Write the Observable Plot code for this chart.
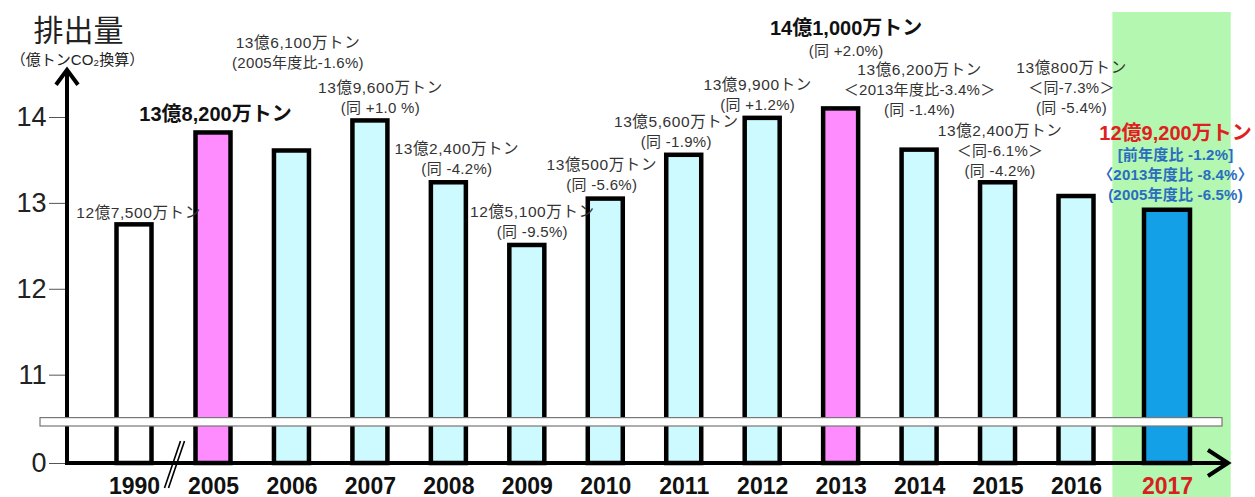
<!DOCTYPE html>
<html><head><meta charset="utf-8">
<script src="https://cdn.jsdelivr.net/npm/d3@7"></script>
<script src="https://cdn.jsdelivr.net/npm/@observablehq/plot@0.6"></script>
<style>
html,body{margin:0;padding:0;background:#fff;}
#chart{width:1255px;height:497px;}
</style></head><body><div id="chart"></div>
<script>
// ---- data ----
const years = [1990, 2005, 2006, 2007, 2008, 2009, 2010, 2011, 2012, 2013, 2014, 2015, 2016, 2017];
const emissions = [12.75, 13.82, 13.61, 13.96, 13.24, 12.51, 13.05, 13.56, 13.99, 14.10, 13.62, 13.24, 13.08, 12.92];
const amountLabels = ["12億7,500万トン", "13億8,200万トン", "13億6,100万トン", "13億9,600万トン", "13億2,400万トン",
  "12億5,100万トン", "13億500万トン", "13億5,600万トン", "13億9,900トン", "14億1,000万トン",
  "13億6,200万トン", "13億2,400万トン", "13億800万トン", "12億9,200万トン"];
const vsPrevLabels = [null, null, null, null, null, null, null, null, null, null, null, null, null, "[前年度比 -1.2%]"];
const vs2013Labels = [null, null, null, null, null, null, null, null, null, null,
  "＜2013年度比-3.4%＞", "＜同-6.1%＞", "＜同-7.3%＞", "〈2013年度比 -8.4%〉"];
const vs2005Labels = [null, null, "(2005年度比-1.6%)", "(同 +1.0 %)", "(同 -4.2%)", "(同 -9.5%)", "(同 -5.6%)",
  "(同 -1.9%)", "(同 +1.2%)", "(同 +2.0%)", "(同 -1.4%)", "(同 -4.2%)", "(同 -5.4%)", "(2005年度比 -6.5%)"];
const barKinds = ["base", "ref", "normal", "normal", "normal", "normal", "normal", "normal", "normal", "ref",
  "normal", "normal", "normal", "latest"];
const emphasizedYears = [2005, 2013, 2017];
const latestYear = 2017;
const yTicks = [0, 11, 12, 13, 14];
const titleText = "排出量";
const unitText = "（億トンCO₂換算）";

// ---- layout / styles ----
const kindFill = {base: "#ffffff", ref: "#ff8cff", normal: "#ccfaff", latest: "#14a0e6"};
// label block offset from bar top in px: [dx, dy of first line]
const labelLayout = {
  1990: [4, -12], 2005: [2, -18], 2006: [6, -108], 2007: [10, -33], 2008: [8, -34], 2009: [5, -33],
  2010: [-4, -34], 2011: [-8, -33], 2012: [-5, -33], 2013: [5, -80], 2014: [0, -80], 2015: [2, -52],
  2016: [-5, -128], 2017: [8, -77]
};

const data = years.map((year, i) => ({year, value: emissions[i], kind: barKinds[i]}));
const normalBars = data.filter(d => d.kind !== "latest");
const latestBars = data.filter(d => d.kind === "latest");

// label rows
const labelMarks = [];
years.forEach((year, i) => {
  const [dx, dy0] = labelLayout[year];
  const isLatest = year === latestYear;
  const emph = emphasizedYears.includes(year);
  const lines = [];
  lines.push({text: amountLabels[i], size: emph ? 20 : 15.5, weight: emph ? "bold" : "normal",
    fill: isLatest ? "#e02020" : (emph ? "#111" : "#333"), spacing: emph ? 0 : 0.6});
  for (const arr of [vsPrevLabels, vs2013Labels, vs2005Labels]) {
    if (arr[i]) lines.push({text: arr[i], size: isLatest ? 15 : 15, weight: isLatest ? "bold" : "normal",
      fill: isLatest ? "#2a6cc0" : "#333", spacing: isLatest ? 0.2 : 0.3});
  }
  let dy = dy0;
  lines.forEach((ln) => {
    labelMarks.push(Plot.text([data[i]], {
      x: "year", y: "value", text: () => ln.text, dx, dy,
      fontSize: ln.size, fontWeight: ln.weight, fill: ln.fill,
      render: (index, scales, values, dims, context, next) => {
        const g = next(index, scales, values, dims, context);
        g.setAttribute("letter-spacing", ln.spacing);
        return g;
      }
    }));
    dy += (ln.weight === "bold" && ln.size > 16) ? 22 : 20;
  });
});

// axis arrows and x-axis break mark (decoration drawn from the scales)
function axisArrows(index, {x, y}, values, dims) {
  const x0 = dims.marginLeft, y0 = y(0), yTop = y(14.55), xEnd = x(2017.67);
  const g = d3.create("svg:g").attr("fill", "none").attr("stroke", "#000").attr("stroke-width", 4)
    .attr("stroke-linejoin", "miter");
  g.append("path").attr("d", `M${x0},${y0 + 2}V${yTop + 1}`);
  g.append("path").attr("d", `M${x0 - 11},${yTop + 15}L${x0},${yTop}L${x0 + 11},${yTop + 15}`);
  g.append("path").attr("d", `M${x0 - 2},${y0}H${xEnd - 1}`);
  g.append("path").attr("d", `M${xEnd - 20},${y0 - 13}L${xEnd},${y0}L${xEnd - 20},${y0 + 13}`);
  const mx = (x(years[0]) + x(years[1])) / 2;
  const b = g.append("g").attr("stroke-width", 1.6);
  b.append("path").attr("d", `M${mx + 7},${y0 - 22}L${mx - 9},${y0 + 25}`);
  b.append("path").attr("d", `M${mx + 11},${y0 - 22}L${mx - 5},${y0 + 25}`);
  return g.node();
}

const chart = Plot.plot({
  width: 1255, height: 497,
  marginLeft: 67, marginRight: 33, marginTop: 0, marginBottom: 34,
  style: {background: "white", fontFamily: "'Liberation Sans', 'Noto Sans CJK JP', sans-serif", overflow: "visible"},
  x: {type: "linear", domain: [1990, 2005, 2016, 2017], range: [134, 213, 1076, 1167], axis: null},
  y: {type: "linear", domain: [0, 9.5, 10.5, 14], range: [463, 426, 417.6, 117], axis: null},
  marks: [
    // highlight of latest fiscal year
    Plot.rect([latestYear], {x1: d => d - 0.6, x2: d => d + 0.7, fill: "#b3f7b0", insetTop: 12, insetBottom: -34}),
    Plot.axisY({ticks: yTicks, label: null, tickSize: 18, tickPadding: 3, fontSize: 27, stroke: "#555", fill: "#222", tickFormat: d => String(d)}),
    Plot.rect(normalBars, {x1: "year", x2: "year", y1: 0, y2: "value", insetLeft: -17.5, insetRight: -17.5,
      fill: d => kindFill[d.kind], stroke: "#000", strokeWidth: 4.5}),
    Plot.rect(latestBars, {x1: "year", x2: "year", y1: 0, y2: "value", insetLeft: -23, insetRight: -23,
      fill: d => kindFill[d.kind], stroke: "#000", strokeWidth: 4.5}),
    axisArrows,
    // axis break band
    Plot.rect([0], {y1: 9.5, y2: 10.5, insetLeft: -27, fill: "#fff", stroke: "#777", strokeWidth: 1.2}),
    Plot.text(years, {x: d => d, y: 0, dy: 23, text: d => String(d), fontSize: 23, fontWeight: "bold",
      fill: d => d === latestYear ? "#d92020" : "#111"}),
    ...labelMarks,
    Plot.text([titleText], {frameAnchor: "top-left", lineAnchor: "middle", dx: 11, dy: 31, text: d => d, fontSize: 30, textAnchor: "middle", fill: "#222"}),
    Plot.text([unitText], {frameAnchor: "top-left", lineAnchor: "middle", dx: 10, dy: 60, text: d => d, fontSize: 15, textAnchor: "middle", fill: "#222"})
  ]
});
document.getElementById("chart").appendChild(chart);
</script>
</body></html>
